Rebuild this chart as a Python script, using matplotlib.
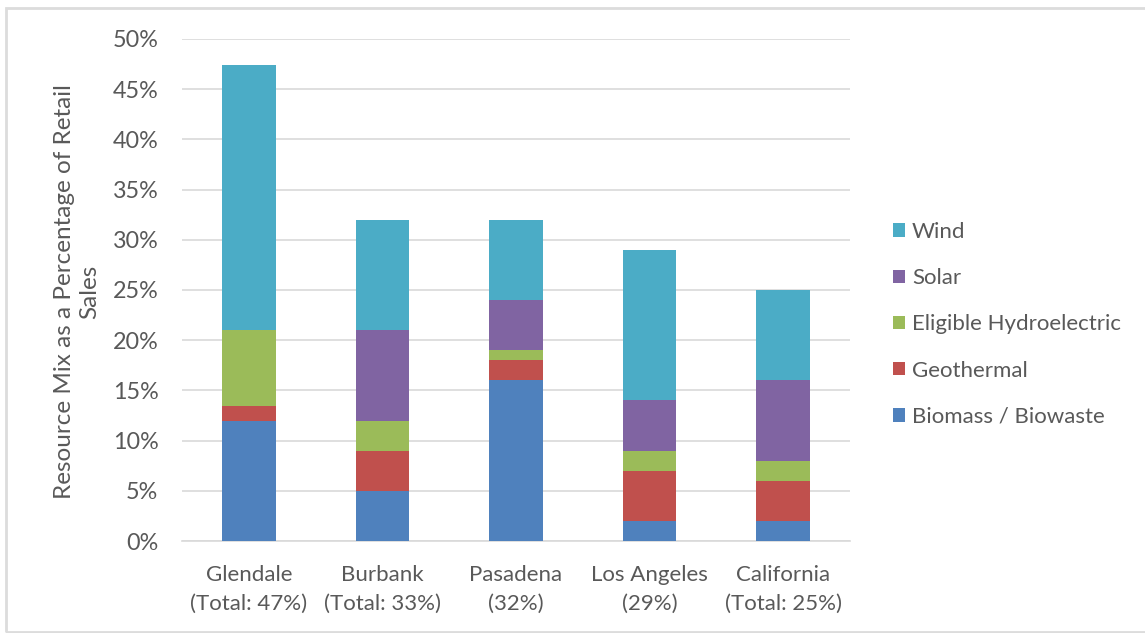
import matplotlib
matplotlib.use("Agg")
import matplotlib.pyplot as plt
from matplotlib.patches import Rectangle
import numpy as np

categories = ["Glendale\n(Total: 47%)", "Burbank\n(Total: 33%)", "Pasadena\n(32%)",
              "Los Angeles\n(29%)", "California\n(Total: 25%)"]
series_names = ["Biomass / Biowaste", "Geothermal", "Eligible Hydroelectric", "Solar", "Wind"]
biomass = [12.0, 5.0, 16.0, 2.0, 2.0]
geothermal = [1.4, 4.0, 2.0, 5.0, 4.0]
hydro = [7.6, 3.0, 1.0, 2.0, 2.0]
solar = [0.0, 9.0, 5.0, 5.0, 8.0]
wind = [26.4, 11.0, 8.0, 15.0, 9.0]
y_ticks = [0, 5, 10, 15, 20, 25, 30, 35, 40, 45, 50]

colors = ["#4F81BD", "#C0504D", "#9BBB59", "#8064A2", "#4BACC6"]
text_color = "#595959"
font = "Lato"
fs = 16

plt.rcParams["font.family"] = [font, "DejaVu Sans"]

W, H = 1145, 633
fig = plt.figure(figsize=(W / 100, H / 100), dpi=100)
fig.patch.set_facecolor("white")

# light frame around the whole chart
fig.add_artist(Rectangle((6 / W, 1 / H), (W + 20) / W, (H - 9) / H,
                         transform=fig.transFigure, fill=False,
                         edgecolor="#dcdcdc", linewidth=2.0))

ax = fig.add_axes([182 / W, 1 - 541 / H, (850 - 182) / W, (541 - 39) / H])

x = np.arange(len(categories))
bottom = np.zeros(len(categories))
handles = []
for name, vals, c in zip(series_names, [biomass, geothermal, hydro, solar, wind], colors):
    b = ax.bar(x, vals, width=0.40, bottom=bottom, color=c, label=name, zorder=3)
    handles.append(b)
    bottom += np.array(vals)

ax.set_xlim(-0.5, len(categories) - 0.5)
ax.set_ylim(0, 50)
ax.set_yticks(y_ticks)
ax.set_yticklabels([f"{v}%" for v in y_ticks])
ax.set_xticks(x)
ax.set_xticklabels(categories, linespacing=1.55)
ax.yaxis.grid(True, color="#d9d9d9", linewidth=1.2, zorder=0)
ax.set_axisbelow(True)
for s in ["top", "right", "left"]:
    ax.spines[s].set_visible(False)
ax.spines["bottom"].set_color("#d9d9d9")
ax.spines["bottom"].set_linewidth(1.2)
ax.tick_params(axis="y", length=0, pad=17, labelsize=16.8, labelcolor=text_color)
ax.tick_params(axis="x", length=0, pad=17, labelsize=fs, labelcolor=text_color)

fig.text(77 / W, 1 - 292 / H, "Resource Mix as a Percentage of Retail\nSales",
         rotation=90, ha="center", va="center", multialignment="center",
         fontsize=17.5, color=text_color, linespacing=1.25)

leg = fig.legend(handles[::-1], series_names[::-1], loc="upper left",
                 bbox_to_anchor=(873 / W, 1 - 202 / H), frameon=False,
                 fontsize=fs, labelcolor=text_color, handlelength=0.55,
                 handleheight=0.55, handletextpad=0.3, labelspacing=1.18)

fig.savefig("out.png", dpi=100, facecolor="white")
